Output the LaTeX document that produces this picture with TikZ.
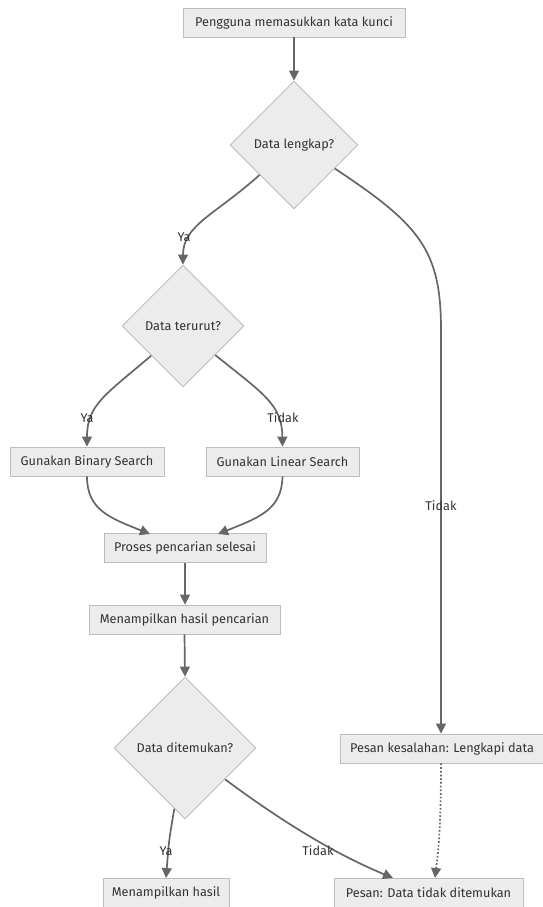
\documentclass[tikz,border=0pt]{standalone}
\usepackage{fontspec}
\setmainfont{Fira Sans}
\usetikzlibrary{shapes.geometric,arrows.meta}
\definecolor{boxfill}{HTML}{ECECEC}
\definecolor{boxline}{HTML}{BDBDBD}
\definecolor{edgec}{HTML}{666666}
\definecolor{txt}{HTML}{333333}
\tikzset{
  box/.style={draw=boxline,fill=boxfill,line width=0.9pt,minimum height=29pt,inner sep=0pt,text=txt,font=\fontsize{12.7}{14}\selectfont},
  dec/.style={draw=boxline,fill=boxfill,line width=0.9pt,shape=diamond,aspect=1,inner sep=0pt,text=txt,font=\fontsize{12.7}{14}\selectfont},
  conn/.style={draw=edgec,line width=1.7pt,-{Triangle[length=10pt,width=10pt]}},
  lbl/.style={text=txt,font=\fontsize{12.7}{14}\selectfont,inner sep=1pt},
}
\begin{document}
\begin{tikzpicture}[x=1pt,y=-1pt]
\useasboundingbox (0,0) rectangle (542,907);
\node[box,minimum width=222pt] (start) at (294,22.5) {Pengguna memasukkan kata kunci};
\node[dec,minimum size=128pt] (d1) at (294,145) {Data lengkap?};
\node[dec,minimum size=122pt] (d2) at (183,326) {Data terurut?};
\node[box,minimum width=154pt] (bin) at (87,461.5) {Gunakan Binary Search};
\node[box,minimum width=153pt] (lin) at (282.5,461.5) {Gunakan Linear Search};
\node[box,minimum width=162pt] (proc) at (185,548) {Proses pencarian selesai};
\node[box,minimum width=191pt] (show) at (184.5,619.5) {Menampilkan hasil pencarian};
\node[dec,minimum size=142pt] (d3) at (185,748) {Data ditemukan?};
\node[box,minimum width=203pt] (err) at (442,748.5) {Pesan kesalahan: Lengkapi data};
\node[box,minimum width=126pt] (res) at (166,893) {Menampilkan hasil};
\node[box,minimum width=189pt] (nf) at (428.5,893) {Pesan: Data tidak ditemukan};

\draw[conn] (start.south) -- (d1.north);
\draw[conn] (d1.-139) .. controls (215,215) and (183,225) .. (d2.north);
\draw[conn] (d1.-30) .. controls (420,225) and (441,250) .. (441,330) -- (err.north -| 441,0);
\draw[conn] (d2.-137) .. controls (105,395) and (87,405) .. (bin.north);
\draw[conn] (d2.-42) .. controls (265,395) and (282,405) .. (lin.north);
\draw[conn] (bin.south) .. controls (87,510) and (110,518) .. (150,534);
\draw[conn] (lin.south) .. controls (282,510) and (258,518) .. (218,534);
\draw[conn] (proc.south) -- (show.north -| proc.south);
\draw[conn] (show.south) -- (d3.north);
\draw[conn] (d3.-100) .. controls (169,840) .. (res.north);
\draw[conn] (d3.-38) .. controls (300,835) and (350,860) .. (393,878);
\draw[conn,dotted] (err.south -| 441,0) .. controls (441,840) and (437,860) .. (435,878);

\node[lbl] (l1) at (184,237) {Ya};
\node[lbl] (l2) at (441,506) {Tidak};
\node[lbl] (l3) at (87,418) {Ya};
\node[lbl] (l4) at (283,418) {Tidak};
\node[lbl] (l5) at (166,851) {Ya};
\node[lbl] (l6) at (318,851) {Tidak};
\end{tikzpicture}
\end{document}
